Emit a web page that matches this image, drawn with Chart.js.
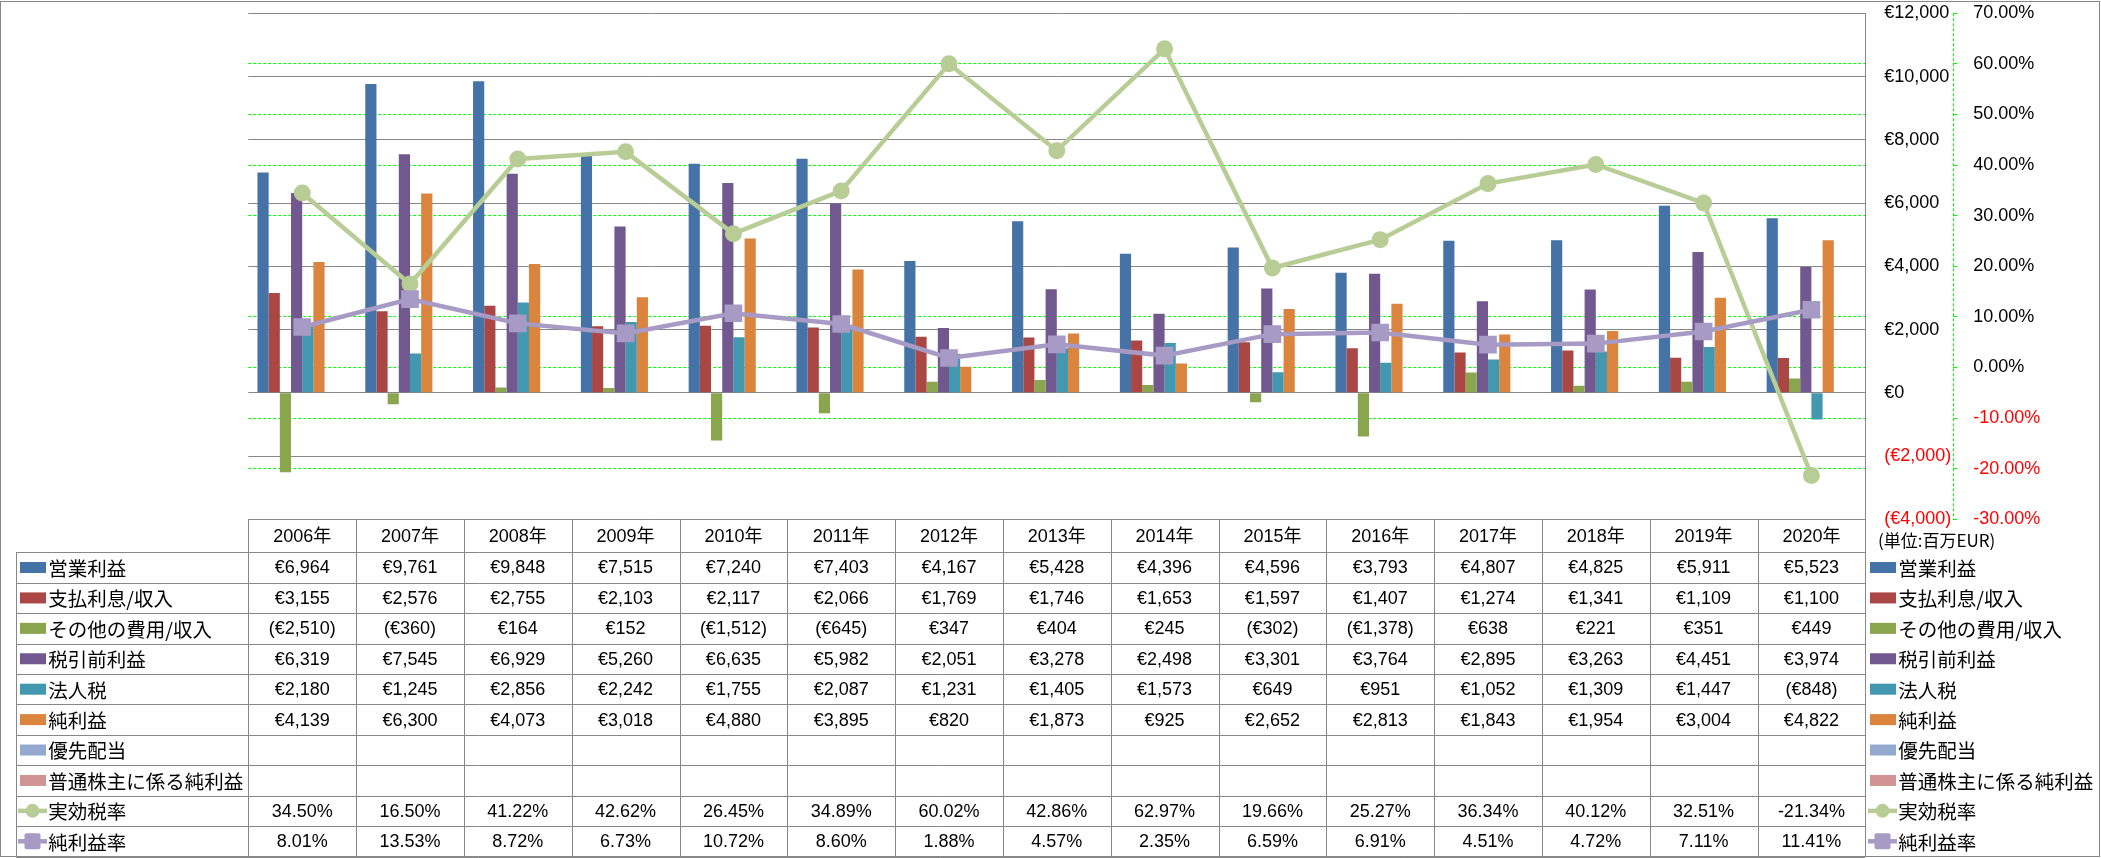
<!DOCTYPE html>
<html><head><meta charset="utf-8">
<script src="https://cdn.jsdelivr.net/npm/chart.js@4.4.1/dist/chart.umd.min.js"></script>
<style>html,body{margin:0;padding:0;background:#fff;overflow:hidden}#wrap{width:2101px;height:858px;position:relative}</style>
</head><body><div id="wrap"><canvas id="c" width="2101" height="858"></canvas></div>
<script>
const categories = ['2006年','2007年','2008年','2009年','2010年','2011年','2012年','2013年','2014年','2015年','2016年','2017年','2018年','2019年','2020年'];
const operatingIncome = [6964, 9761, 9848, 7515, 7240, 7403, 4167, 5428, 4396, 4596, 3793, 4807, 4825, 5911, 5523];
const interestExpense = [3155, 2576, 2755, 2103, 2117, 2066, 1769, 1746, 1653, 1597, 1407, 1274, 1341, 1109, 1100];
const otherExpense = [-2510, -360, 164, 152, -1512, -645, 347, 404, 245, -302, -1378, 638, 221, 351, 449];
const pretaxIncome = [6319, 7545, 6929, 5260, 6635, 5982, 2051, 3278, 2498, 3301, 3764, 2895, 3263, 4451, 3974];
const incomeTax = [2180, 1245, 2856, 2242, 1755, 2087, 1231, 1405, 1573, 649, 951, 1052, 1309, 1447, -848];
const netIncome = [4139, 6300, 4073, 3018, 4880, 3895, 820, 1873, 925, 2652, 2813, 1843, 1954, 3004, 4822];
const preferredDividends = [null, null, null, null, null, null, null, null, null, null, null, null, null, null, null];
const netIncomeCommon = [null, null, null, null, null, null, null, null, null, null, null, null, null, null, null];
const effectiveTaxRate = [34.50, 16.50, 41.22, 42.62, 26.45, 34.89, 60.02, 42.86, 62.97, 19.66, 25.27, 36.34, 40.12, 32.51, -21.34];
const netMargin = [8.01, 13.53, 8.72, 6.73, 10.72, 8.60, 1.88, 4.57, 2.35, 6.59, 6.91, 4.51, 4.72, 7.11, 11.41];
const euroTicks = {min: -4000, max: 12000, step: 2000};
const pctTicks = {min: -30, max: 70, step: 10};

const FONT = "'Liberation Sans', 'Noto Sans CJK JP', sans-serif";
const JP = "'Noto Sans CJK JP', 'Liberation Sans', sans-serif";
const GRAY = '#878787';
const GREEN = '#00FF00';
const TARGET = {left: 248.3, top: 13.3, right: 1865.3, bottom: 519.3};

function fmtEuro(v){ const s = '€' + Math.abs(v).toLocaleString('en-US'); return v < 0 ? '(' + s + ')' : s; }
function fmtPct(v){ return v.toFixed(2) + '%'; }

const seriesDefs = [
  {label:'営業利益', data: operatingIncome, color:'#4572A7', kind:'bar', fmt: fmtEuro},
  {label:'支払利息/収入', data: interestExpense, color:'#AA4643', kind:'bar', fmt: fmtEuro},
  {label:'その他の費用/収入', data: otherExpense, color:'#89A54E', kind:'bar', fmt: fmtEuro},
  {label:'税引前利益', data: pretaxIncome, color:'#71588F', kind:'bar', fmt: fmtEuro},
  {label:'法人税', data: incomeTax, color:'#4198AF', kind:'bar', fmt: fmtEuro},
  {label:'純利益', data: netIncome, color:'#DB843D', kind:'bar', fmt: fmtEuro},
  {label:'優先配当', data: preferredDividends, color:'#93A9CF', kind:'bar', fmt: fmtEuro},
  {label:'普通株主に係る純利益', data: netIncomeCommon, color:'#D19392', kind:'bar', fmt: fmtEuro},
  {label:'実効税率', data: effectiveTaxRate, color:'#B8CD95', kind:'line', marker:'circle', fmt: fmtPct},
  {label:'純利益率', data: netMargin, color:'#A79AC5', kind:'line', marker:'square', fmt: fmtPct}
];

const datasets = seriesDefs.map((s) => {
  if (s.kind === 'bar') {
    return {type:'bar', label:s.label, data:s.data, backgroundColor:s.color, borderWidth:0, yAxisID:'y', order:2,
            categoryPercentage:0.83, barPercentage:1.0};
  }
  return {type:'line', label:s.label, data:s.data, borderColor:s.color, backgroundColor:s.color, borderWidth:4.5,
          yAxisID:'y2', order: s.marker === 'square' ? 0 : 1, tension:0,
          pointStyle: s.marker === 'square' ? 'rect' : 'circle',
          pointRadius: s.marker === 'square' ? 12.5 : 8.5, pointBorderWidth:0,
          pointBackgroundColor:s.color, pointBorderColor:s.color, pointHoverRadius:0};
});

function drawKey(ctx, s, x, cy){
  ctx.save();
  if (s.kind === 'bar') {
    ctx.fillStyle = s.color;
    ctx.fillRect(x, cy - 5.5, 26, 11);
  } else {
    ctx.strokeStyle = s.color; ctx.lineWidth = 4.5;
    ctx.beginPath(); ctx.moveTo(x - 2, cy); ctx.lineTo(x + 27, cy); ctx.stroke();
    ctx.fillStyle = s.color;
    const mx = x + 12.5;
    if (s.marker === 'circle') {
      ctx.beginPath(); ctx.arc(mx, cy, 7, 0, Math.PI * 2); ctx.fill();
    } else {
      const h = 8, r = 2;
      ctx.beginPath();
      ctx.moveTo(mx - h + r, cy - h); ctx.lineTo(mx + h - r, cy - h); ctx.quadraticCurveTo(mx + h, cy - h, mx + h, cy - h + r);
      ctx.lineTo(mx + h, cy + h - r); ctx.quadraticCurveTo(mx + h, cy + h, mx + h - r, cy + h);
      ctx.lineTo(mx - h + r, cy + h); ctx.quadraticCurveTo(mx - h, cy + h, mx - h, cy + h - r);
      ctx.lineTo(mx - h, cy - h + r); ctx.quadraticCurveTo(mx - h, cy - h, mx - h + r, cy - h);
      ctx.fill();
    }
  }
  ctx.restore();
}

const px = v => Math.round(v) + 0.5;

const tablePlugin = {
  id: 'dataTable',
  afterDraw(chart){
    const ctx = chart.ctx, xs = chart.scales.x, ys = chart.scales.y;
    const n = categories.length;
    const left = xs.left, right = xs.right, cw = (right - left) / n;
    const top = ys.getPixelForValue(euroTicks.min), headerH = 33;
    const rowsTop = top + headerH;
    const bottomY = 856.5;
    const rowH = (bottomY - rowsTop) / seriesDefs.length;
    const labelLeft = 16.3;
    ctx.save();
    const s2 = chart.scales.y2;
    const t2 = s2.getPixelForValue(pctTicks.max), b2 = s2.getPixelForValue(pctTicks.min);
    ctx.strokeStyle = GREEN; ctx.lineWidth = 1; ctx.setLineDash([3, 2]);
    ctx.beginPath(); ctx.moveTo(px(s2.left), t2); ctx.lineTo(px(s2.left), b2 + 0.5); ctx.stroke();
    ctx.setLineDash([]);
    ctx.strokeStyle = GRAY; ctx.lineWidth = 1;
    ctx.beginPath();
    ctx.moveTo(left, px(top)); ctx.lineTo(right, px(top));
    for (let r = 0; r <= seriesDefs.length; r++) {
      const y = px(rowsTop + r * rowH);
      ctx.moveTo(labelLeft, y); ctx.lineTo(right, y);
    }
    for (let i = 0; i <= n; i++) {
      const x = px(left + i * cw);
      ctx.moveTo(x, top); ctx.lineTo(x, bottomY);
    }
    ctx.moveTo(px(labelLeft), rowsTop); ctx.lineTo(px(labelLeft), bottomY);
    ctx.stroke();
    ctx.strokeRect(0.5, 1.5, 2099, 855);
    ctx.fillStyle = '#000'; ctx.textAlign = 'center'; ctx.textBaseline = 'middle';
    ctx.font = '18px ' + FONT;
    for (let i = 0; i < n; i++) ctx.fillText(categories[i], xs.getPixelForValue(i), top + headerH / 2 + 1);
    seriesDefs.forEach((s, r) => {
      const cy = rowsTop + r * rowH + rowH / 2;
      ctx.textAlign = 'center'; ctx.font = '18px ' + FONT; ctx.fillStyle = '#000';
      for (let i = 0; i < n; i++) {
        const v = s.data[i];
        if (v === null || v === undefined) continue;
        ctx.fillText(s.fmt(v), xs.getPixelForValue(i), cy + 1);
      }
      drawKey(ctx, s, 20, cy);
      drawKey(ctx, s, 1870, cy);
      ctx.textAlign = 'left'; ctx.font = '19.5px ' + JP; ctx.fillStyle = '#000';
      ctx.fillText(s.label, 48.3, cy + 1);
      ctx.fillText(s.label, 1898.3, cy + 1);
    });
    ctx.font = '17px ' + JP; ctx.textAlign = 'left';
    ctx.fillText('(単位:百万EUR)', 1878, 541);
    ctx.restore();
  }
};

const layoutPadding = {left: TARGET.left, top: TARGET.top, right: 2101 - TARGET.right - 188, bottom: 858 - TARGET.bottom};
function fixAxis(width){
  return (s) => { s.width = width; s.paddingTop = 0; s.paddingBottom = 0; };
}

const chart = new Chart(document.getElementById('c'), {
  data: {labels: categories, datasets: datasets},
  options: {
    responsive: false, animation: false, devicePixelRatio: 1,
    layout: {padding: layoutPadding},
    plugins: {legend: {display: false}, tooltip: {enabled: false}},
    scales: {
      x: {type: 'category', display: false, offset: true},
      y: {
        position: 'right', weight: 0, min: euroTicks.min, max: euroTicks.max,
        afterFit: fixAxis(88),
        ticks: {stepSize: euroTicks.step, autoSkip: false, padding: 19, font: {size: 18, family: FONT},
                color: (c) => (c.tick && c.tick.value < 0) ? '#FF0000' : '#000000',
                callback: (v) => fmtEuro(v)},
        grid: {color: GRAY, lineWidth: 1, drawTicks: false},
        border: {display: true, color: GRAY, width: 1}
      },
      y2: {
        position: 'right', weight: 1, min: pctTicks.min, max: pctTicks.max,
        afterFit: fixAxis(100),
        ticks: {stepSize: pctTicks.step, autoSkip: false, padding: 16, font: {size: 18, family: FONT},
                color: (c) => (c.tick && c.tick.value < 0) ? '#FF0000' : '#000000',
                callback: (v) => fmtPct(v)},
        grid: {drawOnChartArea: true, lineWidth: 1, drawTicks: true, tickLength: 4, tickColor: GREEN,
               color: (c) => (c.tick && [70, -30, 20].includes(Math.round(c.tick.value))) ? 'rgba(0,0,0,0)' : GREEN},
        border: {display: false, dash: [3, 2]}
      }
    }
  },
  plugins: [tablePlugin]
});

for (let k = 0; k < 5; k++) {
  const ys = chart.scales.y, xs = chart.scales.x;
  const dT = ys.getPixelForValue(euroTicks.max) - TARGET.top;
  const dB = ys.getPixelForValue(euroTicks.min) - TARGET.bottom;
  const dL = xs.left - TARGET.left, dR = xs.right - TARGET.right;
  if (Math.abs(dT) < 0.2 && Math.abs(dB) < 0.2 && Math.abs(dL) < 0.2 && Math.abs(dR) < 0.2) break;
  layoutPadding.top -= dT; layoutPadding.bottom += dB; layoutPadding.left -= dL; layoutPadding.right += dR;
  chart.update();
}
</script>
</body></html>
